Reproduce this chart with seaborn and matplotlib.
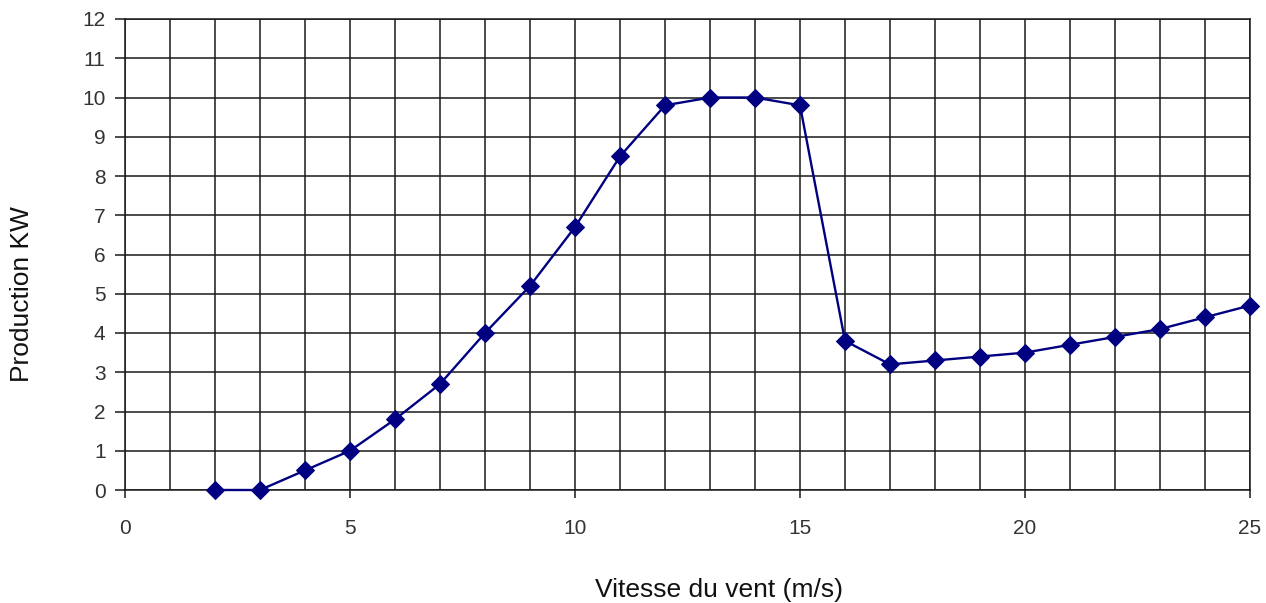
import matplotlib
matplotlib.use("Agg")
import matplotlib.pyplot as plt
import seaborn as sns
import pandas as pd
from matplotlib.ticker import MultipleLocator

wind_speed = [2, 3, 4, 5, 6, 7, 8, 9, 10, 11, 12, 13, 14, 15, 16, 17, 18, 19, 20, 21, 22, 23, 24, 25]
production_kw = [0, 0, 0.5, 1, 1.8, 2.7, 4, 5.2, 6.7, 8.5, 9.8, 10, 10, 9.8, 3.8, 3.2, 3.3, 3.4, 3.5, 3.7, 3.9, 4.1, 4.4, 4.7]
x_label = "Vitesse du vent (m/s)"
y_label = "Production KW"

df = pd.DataFrame({"v": wind_speed, "p": production_kw})

sns.set_style("white")
plt.rcParams["font.family"] = ["Liberation Sans", "DejaVu Sans"]

W, H = 1266, 603
fig = plt.figure(figsize=(W / 100, H / 100), dpi=100)
ax = fig.add_axes([125 / W, 1 - 490 / H, (1250 - 125) / W, (490 - 19) / H])

sns.lineplot(data=df, x="v", y="p", ax=ax, color="#000080", linewidth=1.7,
             marker="D", markersize=9, markeredgecolor="#000080", zorder=5,
             clip_on=False)

ax.set_xlim(0, 25)
ax.set_ylim(0, 12)
ax.xaxis.set_major_locator(MultipleLocator(5))
ax.xaxis.set_minor_locator(MultipleLocator(1))
ax.yaxis.set_major_locator(MultipleLocator(1))
ax.grid(True, which="both", color="#1a1a1a", linewidth=1.1)
ax.set_axisbelow(True)
for s in ax.spines.values():
    s.set_color("#1a1a1a")
    s.set_linewidth(1.1)

ax.tick_params(axis="x", which="major", direction="out", length=6, width=1.1, color="#1a1a1a",
               labelsize=15, labelcolor="#333333", pad=15, bottom=True)
ax.tick_params(axis="x", which="minor", length=0)
ax.tick_params(axis="y", which="major", direction="out", length=7, width=1.1, color="#1a1a1a",
               labelsize=15, labelcolor="#333333", pad=7, left=True)

ax.set_xlabel("")
ax.set_ylabel("")
fig.text(719 / W, 1 - 590 / H, x_label, fontsize=19, color="#111111",
         ha="center", va="center")
fig.text(22 / W, 1 - 294 / H, y_label, fontsize=19, color="#111111",
         ha="center", va="center", rotation=90)

fig.savefig("out.png", dpi=100)
